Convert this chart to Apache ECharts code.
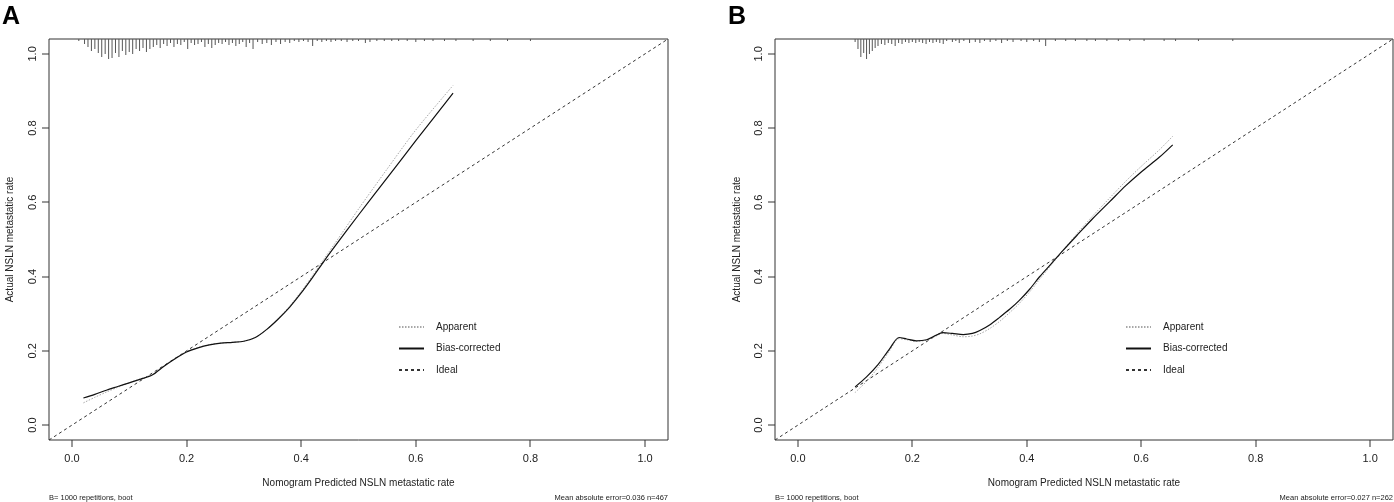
<!DOCTYPE html>
<html>
<head>
<meta charset="utf-8">
<script src="https://cdn.jsdelivr.net/npm/echarts@6/dist/echarts.min.js"></script>
<style>
html,body{margin:0;padding:0;background:#fff;}
#c{width:1394px;height:502px;}
</style>
</head>
<body>
<div id="c"></div>
<script>
// ---- data ----
const tickValues = [0, 0.2, 0.4, 0.6, 0.8, 1.0];
const tickLabels = ['0.0', '0.2', '0.4', '0.6', '0.8', '1.0'];
const axisLimits = [-0.04, 1.04];
const seriesNames = ['Apparent', 'Bias-corrected', 'Ideal'];

// Panel A (n=467)
const appA_x = [0.02,0.04,0.06,0.08,0.10,0.12,0.14,0.16,0.18,0.20,0.22,0.24,0.26,0.28,0.30,0.32,0.34,0.36,0.38,0.40,0.42,0.44,0.46,0.50,0.55,0.60,0.665];
const appA_y = [0.060,0.075,0.089,0.102,0.114,0.125,0.136,0.158,0.180,0.198,0.209,0.217,0.221,0.223,0.226,0.236,0.258,0.287,0.321,0.360,0.403,0.448,0.492,0.582,0.690,0.795,0.915];
const biasA_x = [0.02,0.04,0.06,0.08,0.10,0.12,0.14,0.16,0.18,0.20,0.22,0.24,0.26,0.28,0.30,0.32,0.34,0.36,0.38,0.40,0.42,0.44,0.46,0.50,0.55,0.60,0.665];
const biasA_y = [0.073,0.083,0.094,0.104,0.114,0.124,0.135,0.158,0.179,0.197,0.208,0.216,0.221,0.223,0.226,0.236,0.258,0.286,0.318,0.356,0.398,0.442,0.484,0.566,0.666,0.766,0.894];
const rugA_x = [0.012,0.022,0.028,0.034,0.040,0.046,0.052,0.058,0.064,0.070,0.076,0.082,0.088,0.094,0.100,0.106,0.112,0.118,0.124,0.130,0.136,0.142,0.148,0.154,0.160,0.166,0.172,0.178,0.184,0.190,0.196,0.202,0.208,0.214,0.220,0.226,0.232,0.238,0.244,0.250,0.256,0.262,0.268,0.274,0.280,0.286,0.292,0.298,0.304,0.310,0.316,0.324,0.332,0.340,0.348,0.356,0.364,0.372,0.380,0.388,0.396,0.404,0.412,0.420,0.428,0.436,0.444,0.452,0.460,0.470,0.480,0.490,0.500,0.512,0.520,0.532,0.545,0.558,0.570,0.585,0.600,0.615,0.630,0.650,0.670,0.700,0.730,0.760,0.800];
const rugA_n = [2,5,8,12,10,14,18,15,20,19,14,18,12,16,13,15,10,12,9,13,10,8,6,9,5,7,4,8,5,6,3,10,4,6,5,3,8,5,9,6,4,5,3,6,4,7,5,3,8,4,10,3,5,4,6,3,5,3,4,2,3,2,3,7,2,3,2,3,2,2,3,2,2,4,3,2,2,2,2,2,3,2,2,2,2,2,2,2,2];

// Panel B (n=262)
const appB_x = [0.10,0.12,0.14,0.16,0.177,0.19,0.207,0.225,0.24,0.253,0.27,0.289,0.305,0.318,0.335,0.353,0.37,0.387,0.405,0.422,0.443,0.463,0.49,0.515,0.545,0.573,0.60,0.632,0.655];
const appB_y = [0.088,0.118,0.155,0.200,0.233,0.230,0.226,0.229,0.239,0.247,0.243,0.238,0.240,0.246,0.260,0.280,0.303,0.328,0.359,0.392,0.432,0.470,0.520,0.563,0.612,0.657,0.697,0.742,0.778];
const biasB_x = [0.10,0.12,0.14,0.16,0.177,0.19,0.207,0.225,0.24,0.253,0.27,0.289,0.305,0.318,0.335,0.353,0.37,0.387,0.405,0.422,0.443,0.463,0.49,0.515,0.545,0.573,0.60,0.632,0.655];
const biasB_y = [0.103,0.130,0.163,0.205,0.236,0.232,0.227,0.230,0.241,0.249,0.247,0.244,0.247,0.255,0.270,0.291,0.312,0.336,0.366,0.399,0.435,0.470,0.515,0.556,0.602,0.645,0.682,0.722,0.755];
const rugB_x = [0.100,0.105,0.110,0.115,0.120,0.125,0.130,0.135,0.140,0.146,0.152,0.158,0.164,0.170,0.176,0.182,0.188,0.194,0.200,0.206,0.212,0.218,0.224,0.230,0.236,0.242,0.248,0.254,0.260,0.270,0.276,0.282,0.290,0.300,0.310,0.318,0.326,0.336,0.346,0.356,0.366,0.376,0.390,0.400,0.412,0.422,0.433,0.450,0.468,0.485,0.505,0.520,0.540,0.560,0.580,0.605,0.640,0.660,0.700,0.760];
const rugB_n = [3,10,18,14,20,15,12,9,7,5,6,4,5,7,4,5,3,4,3,4,3,4,5,3,4,3,4,5,2,3,2,4,2,4,3,4,2,3,2,4,2,3,2,3,2,3,7,2,2,2,2,2,2,2,2,2,2,2,2,2];

const footLeft = 'B= 1000 repetitions, boot';
const footRightA = 'Mean absolute error=0.036 n=467';
const footRightB = 'Mean absolute error=0.027 n=262';
const xTitle = 'Nomogram Predicted NSLN metastatic rate';
const yTitle = 'Actual NSLN metastatic rate';

// ---- build ----
const zip = (a, b) => a.map((v, i) => [v, b[i]]);
const FONT = 'Liberation Sans, Arial, sans-serif';
const TICK_LEN = 7;
const grids = [
  {left: 49, top: 39, width: 619, height: 401},
  {left: 775, top: 39, width: 618, height: 401}
];
const fmtTick = v => tickLabels[tickValues.findIndex(t => Math.abs(t - v) < 1e-9)] || '';

function xAx(g) {
  return {
    gridIndex: g, type: 'value', min: axisLimits[0], max: axisLimits[1], position: 'bottom',
    axisLine: {show: false, onZero: false},
    axisTick: {show: false},
    axisLabel: {customValues: tickValues, formatter: fmtTick, fontSize: 11, color: '#222', margin: 13, fontFamily: FONT},
    splitLine: {show: false}
  };
}
function yAx(g) {
  return {
    gridIndex: g, type: 'value', min: axisLimits[0], max: axisLimits[1], position: 'left',
    axisLine: {show: false, onZero: false},
    axisTick: {show: false},
    axisLabel: {customValues: tickValues, formatter: fmtTick, rotate: 90, fontSize: 11, color: '#222', margin: 11, fontFamily: FONT},
    splitLine: {show: false}
  };
}
function rugAx(g) {
  return {gridIndex: g, type: 'value', inverse: true, min: 0, max: 401, show: false, axisLine: {onZero: false}};
}

function panelSeries(p, appX, appY, biasX, biasY, rugX, rugN) {
  const xi = p, yi = p * 2, ri = p * 2 + 1;
  return [
    {type: 'bar', name: 'rug', xAxisIndex: xi, yAxisIndex: ri, data: zip(rugX, rugN), barWidth: 1,
     itemStyle: {color: '#555'}, silent: true, animation: false},
    {type: 'line', name: seriesNames[0], xAxisIndex: xi, yAxisIndex: yi, data: zip(appX, appY), smooth: 0.3,
     symbol: 'none', lineStyle: {color: '#a8a8a8', type: [1.5, 1.5], width: 1}, itemStyle: {color: '#a8a8a8'}, animation: false, z: 3},
    {type: 'line', name: seriesNames[1], xAxisIndex: xi, yAxisIndex: yi, data: zip(biasX, biasY), smooth: 0.3,
     symbol: 'none', lineStyle: {color: '#111', type: 'solid', width: 1.2}, itemStyle: {color: '#111'}, animation: false, z: 4},
    {type: 'line', name: seriesNames[2], xAxisIndex: xi, yAxisIndex: yi, data: [[axisLimits[0], axisLimits[0]], [axisLimits[1], axisLimits[1]]],
     symbol: 'none', lineStyle: {color: '#333', type: [3, 3], width: 1}, itemStyle: {color: '#333'}, animation: false, z: 2}
  ];
}

function legendAt(left) {
  return {
    left: left, top: 322, orient: 'vertical', itemWidth: 25, itemHeight: 12, itemGap: 11.5, padding: 0,
    data: seriesNames, selectedMode: false,
    itemStyle: {opacity: 0},
    textStyle: {fontSize: 10, color: '#222', fontFamily: FONT, padding: [0, 0, 0, 7]}
  };
}

function txt(x, y, text, size, opts) {
  return {type: 'text', x: x, y: y, style: Object.assign({text: text, fontSize: size, fontFamily: FONT, fill: '#222', textAlign: 'left', textVerticalAlign: 'middle'}, opts || {})};
}

const textGraphics = [
  {type: 'text', x: 2, y: 17, style: {text: 'A', fontSize: 25, fontWeight: 'bold', fontFamily: FONT, fill: '#000', textVerticalAlign: 'middle'}},
  {type: 'text', x: 728, y: 17, style: {text: 'B', fontSize: 25, fontWeight: 'bold', fontFamily: FONT, fill: '#000', textVerticalAlign: 'middle'}},
  {type: 'text', x: 10, y: 239.5, rotation: Math.PI / 2, style: {text: yTitle, fontSize: 10, fontFamily: FONT, fill: '#222', textAlign: 'center', textVerticalAlign: 'middle'}},
  {type: 'text', x: 737, y: 239.5, rotation: Math.PI / 2, style: {text: yTitle, fontSize: 10, fontFamily: FONT, fill: '#222', textAlign: 'center', textVerticalAlign: 'middle'}},
  txt(358.5, 483, xTitle, 10, {textAlign: 'center'}),
  txt(1084, 483, xTitle, 10, {textAlign: 'center'}),
  txt(49, 498, footLeft, 7.5),
  txt(775, 498, footLeft, 7.5),
  txt(668, 498, footRightA, 7.5, {textAlign: 'right'}),
  txt(1393, 498, footRightB, 7.5, {textAlign: 'right'})
];

const chart = echarts.init(document.getElementById('c'));
chart.setOption({
  backgroundColor: '#fff',
  animation: false,
  grid: grids.map(g => Object.assign({show: true, borderColor: '#333', borderWidth: 1, backgroundColor: 'transparent'}, g)),
  xAxis: [xAx(0), xAx(1)],
  yAxis: [yAx(0), rugAx(0), yAx(1), rugAx(1)],
  legend: [legendAt(398), legendAt(1125)],
  series: [].concat(
    panelSeries(0, appA_x, appA_y, biasA_x, biasA_y, rugA_x, rugA_n),
    panelSeries(1, appB_x, appB_y, biasB_x, biasB_y, rugB_x, rugB_n)
  )
});

// tick marks placed through the axis scales (public convertToPixel), on their own layer
const tickGraphics = [];
[0, 1].forEach(p => {
  const finder = {xAxisIndex: p, yAxisIndex: p * 2};
  const corner = chart.convertToPixel(finder, [axisLimits[0], axisLimits[0]]);
  tickValues.forEach(v => {
    const px = chart.convertToPixel(finder, [v, axisLimits[0]]);
    const py = chart.convertToPixel(finder, [axisLimits[0], v]);
    if (px && isFinite(px[0]) && isFinite(corner[1])) {
      tickGraphics.push({type: 'rect', silent: true, zlevel: 1, z: 100,
        shape: {x: Math.round(px[0]) - 0.5, y: corner[1], width: 1, height: TICK_LEN},
        style: {fill: '#333'}});
    }
    if (py && isFinite(py[1]) && isFinite(corner[0])) {
      tickGraphics.push({type: 'rect', silent: true, zlevel: 1, z: 100,
        shape: {x: corner[0] - TICK_LEN, y: Math.round(py[1]) - 0.5, width: TICK_LEN, height: 1},
        style: {fill: '#333'}});
    }
  });
});
chart.setOption({graphic: {elements: textGraphics.concat(tickGraphics)}});
</script>
</body>
</html>
